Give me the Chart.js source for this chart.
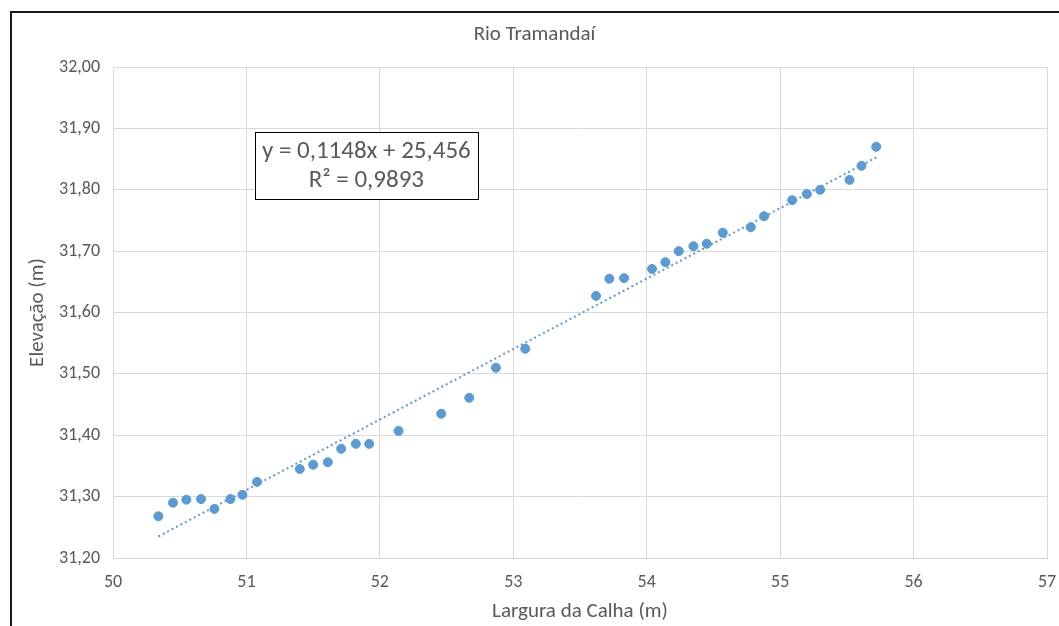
<!DOCTYPE html>
<html>
<head>
<meta charset="utf-8">
<title>Rio Tramandaí</title>
<script src="https://cdn.jsdelivr.net/npm/chart.js@4.4.1/dist/chart.umd.min.js"></script>
<style>
  html, body { margin: 0; padding: 0; background: #fff; overflow: hidden; }
  canvas { display: block; }
</style>
</head>
<body>
<canvas id="chart" width="1059" height="626"></canvas>
<script>
// largura da calha (m)
const largura = [
  50.34, 50.45, 50.55, 50.66, 50.76, 50.88, 50.97, 51.08,
  51.40, 51.50, 51.61, 51.71, 51.82, 51.92, 52.14,
  52.46, 52.67, 52.87, 53.09,
  53.62, 53.72, 53.83, 54.04, 54.14, 54.24, 54.35, 54.45, 54.57,
  54.78, 54.88, 55.09, 55.20, 55.30, 55.52, 55.61, 55.72
];
// elevação (m)
const elevacao = [
  31.268, 31.290, 31.295, 31.296, 31.280, 31.296, 31.303, 31.324,
  31.345, 31.352, 31.356, 31.378, 31.386, 31.386, 31.407,
  31.435, 31.461, 31.510, 31.541,
  31.627, 31.655, 31.656, 31.671, 31.682, 31.700, 31.708, 31.712, 31.730,
  31.739, 31.757, 31.783, 31.793, 31.800, 31.816, 31.839, 31.870
];

// linear trend line (Excel)
const slope = 0.1148;
const intercept = 25.456;
const r2 = 0.9893;

const fmt = (v, d) => v.toFixed(d).replace('.', ',');
const FONT = "Carlito, Calibri, 'Liberation Sans Narrow', 'Open Sans', sans-serif";
const BLUE = '#5B9BD5';
const TEXT = '#595959';

const pontos = largura.map((x, i) => ({ x, y: elevacao[i] }));
const xMin = Math.min(...largura), xMax = Math.max(...largura);
const tendencia = [xMin, xMax].map(x => ({ x, y: slope * x + intercept }));

// frame around the chart + equation box
const decor = {
  id: 'decor',
  beforeDraw(chart) {
    const ctx = chart.ctx;
    ctx.save();
    ctx.fillStyle = '#fff';
    ctx.fillRect(0, 0, chart.width, chart.height);
    ctx.strokeStyle = '#1a1a1a';
    ctx.lineWidth = 2;
    ctx.strokeRect(11, 12, chart.width + 20, chart.height + 20);
    ctx.restore();
  },
  afterDraw(chart) {
    const ctx = chart.ctx;
    const sx = chart.scales.x, sy = chart.scales.y;
    const left = sx.getPixelForValue(51.063), top = sy.getPixelForValue(31.894);
    const w = 223, h = 67;
    ctx.save();
    ctx.fillStyle = '#fff';
    ctx.fillRect(left, top, w, h);
    ctx.strokeStyle = '#000';
    ctx.lineWidth = 1;
    ctx.strokeRect(Math.round(left) + 0.5, Math.round(top) + 0.5, w, h);
    ctx.fillStyle = TEXT;
    ctx.font = '25px ' + FONT;
    ctx.textAlign = 'center';
    ctx.textBaseline = 'middle';
    ctx.fillText('y = ' + fmt(slope, 4) + 'x + ' + fmt(intercept, 3), left + w / 2, top + 20);
    ctx.fillText('R² = ' + fmt(r2, 4), left + w / 2, top + 49);
    ctx.restore();
  }
};

new Chart(document.getElementById('chart'), {
  type: 'scatter',
  data: {
    datasets: [
      {
        label: 'Elevação',
        data: pontos,
        backgroundColor: BLUE,
        borderColor: BLUE,
        pointRadius: 4.5,
        pointHoverRadius: 4.5,
        order: 1
      },
      {
        label: 'Linear',
        type: 'line',
        data: tendencia,
        borderColor: BLUE,
        borderWidth: 2,
        borderDash: [2, 3],
        pointRadius: 0,
        fill: false,
        order: 2
      }
    ]
  },
  options: {
    responsive: false,
    animation: false,
    layout: { padding: { left: 10, right: 0, top: 0, bottom: 0 } },
    plugins: {
      legend: { display: false },
      tooltip: { enabled: false },
      title: {
        display: true,
        text: 'Rio Tramandaí',
        color: TEXT,
        font: { family: FONT, size: 21, weight: 'normal' },
        padding: { top: 22, bottom: 19.8 }
      }
    },
    scales: {
      x: {
        type: 'linear',
        min: 50,
        max: 57,
        ticks: {
          stepSize: 1,
          color: TEXT,
          padding: 14,
          font: { family: FONT, size: 18 }
        },
        grid: { color: '#D9D9D9', drawTicks: false },
        border: { color: '#D9D9D9' },
        title: {
          display: true,
          text: 'Largura da Calha (m)',
          color: TEXT,
          font: { family: FONT, size: 21 },
          padding: { top: 0, bottom: 2 }
        },
        afterFit(scale) {
          scale.height = 68;
          scale.paddingRight = 12;
        }
      },
      y: {
        min: 31.2,
        max: 32.0,
        ticks: {
          stepSize: 0.1,
          color: TEXT,
          padding: 13,
          font: { family: FONT, size: 18 },
          callback: v => fmt(v, 2)
        },
        grid: { color: '#D9D9D9', drawTicks: false },
        border: { color: '#D9D9D9' },
        title: {
          display: true,
          text: 'Elevação (m)',
          color: TEXT,
          font: { family: FONT, size: 21 },
          padding: { top: 15, bottom: 0 }
        },
        afterFit(scale) { scale.width = 103; }
      }
    }
  },
  plugins: [decor]
});
</script>
</body>
</html>
